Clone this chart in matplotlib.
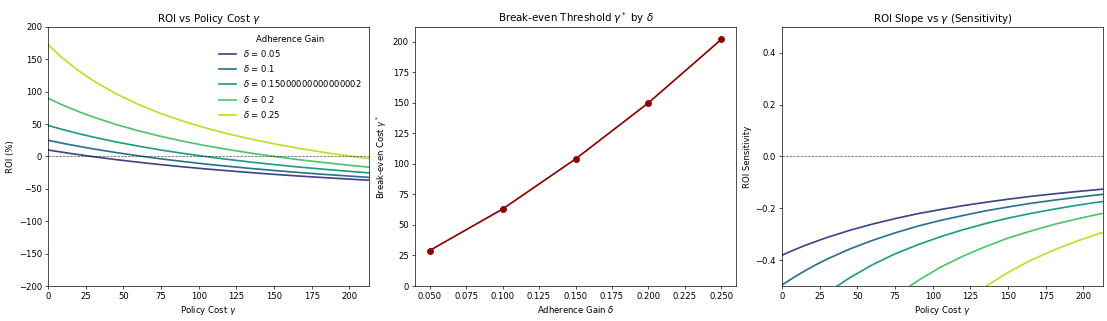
import numpy as np
import matplotlib
matplotlib.use("Agg")
import matplotlib.pyplot as plt

# adherence gains and the policy-cost grid
deltas = [0.05, 0.1, 0.15000000000000002, 0.2, 0.25]
gamma = [0, 7.5, 15, 22.5, 30, 45, 60, 75, 90, 105, 120, 135, 150, 165, 180, 195, 210, 213]

# ROI (%) per delta
roi_005 = [10.0, 7.3, 4.6, 2.1, -0.3, -4.8, -8.9, -12.6, -16.1, -19.3, -22.2, -25.0, -27.6, -30.0, -32.2, -34.3, -36.3, -36.6]
roi_010 = [25.0, 21.4, 18.0, 14.8, 11.7, 6.1, 1.0, -3.7, -7.9, -11.8, -15.3, -18.6, -21.6, -24.5, -27.1, -29.5, -31.8, -32.3]
roi_015 = [47.9, 43.0, 38.4, 34.0, 30.0, 22.5, 15.9, 9.9, 4.6, -0.3, -4.7, -8.8, -12.5, -16.0, -19.1, -22.1, -24.8, -25.3]
roi_020 = [89.8, 81.7, 74.2, 67.3, 60.9, 49.5, 39.6, 31.0, 23.3, 16.5, 10.5, 5.0, 0.0, -4.5, -8.6, -12.4, -15.9, -16.6]
roi_025 = [172.6, 156.2, 141.7, 128.7, 117.0, 96.9, 80.2, 66.1, 54.1, 43.7, 34.6, 26.6, 19.5, 13.1, 7.4, 2.2, -2.4, -3.3]

# ROI slope per delta
slope_005 = [-0.381, -0.362, -0.344, -0.328, -0.3125, -0.285, -0.261, -0.240, -0.221, -0.205, -0.190, -0.177, -0.165, -0.154, -0.1446, -0.1357, -0.1277, -0.1262]
slope_010 = [-0.496, -0.468, -0.442, -0.418, -0.396, -0.357, -0.324, -0.295, -0.269, -0.247, -0.228, -0.210, -0.195, -0.181, -0.169, -0.158, -0.148, -0.146]
slope_015 = [-0.682, -0.637, -0.596, -0.560, -0.526, -0.468, -0.418, -0.376, -0.341, -0.310, -0.283, -0.259, -0.238, -0.220, -0.204, -0.189, -0.176, -0.174]
slope_020 = [-1.137, -1.041, -0.957, -0.883, -0.817, -0.705, -0.615, -0.541, -0.480, -0.428, -0.385, -0.348, -0.315, -0.288, -0.263, -0.242, -0.223, -0.2195]
slope_025 = [-2.330, -2.058, -1.831, -1.639, -1.476, -1.215, -1.018, -0.865, -0.745, -0.647, -0.568, -0.502, -0.4475, -0.401, -0.362, -0.328, -0.298, -0.293]

# break-even cost per delta
breakeven = [29, 63, 104, 150, 202]

roi_all = [roi_005, roi_010, roi_015, roi_020, roi_025]
slope_all = [slope_005, slope_010, slope_015, slope_020, slope_025]

colors = plt.cm.viridis(np.linspace(0.2, 0.9, len(deltas)))

fig, axes = plt.subplots(1, 3, figsize=(18, 5.22), dpi=61.5)
fig.subplots_adjust(left=0.0434, right=0.9964, bottom=0.109, top=0.916, wspace=0.143)

# ROI vs gamma
ax = axes[0]
for d, r, c in zip(deltas, roi_all, colors):
    ax.plot(gamma, r, color=c, lw=2, label=f"$\\delta$ = {d}")
ax.axhline(0, color="black", ls="--", lw=0.8, alpha=0.7)
ax.set_xlim(0, 213)
ax.set_ylim(-200, 200)
ax.set_title("ROI vs Policy Cost $\\gamma$")
ax.set_xlabel("Policy Cost $\\gamma$")
ax.set_ylabel("ROI (%)")
ax.legend(title="Adherence Gain", frameon=False, loc="upper right")

# break-even threshold
ax = axes[1]
ax.plot(deltas, breakeven, marker="o", markersize=7, color="darkred", lw=2)
ax.set_ylim(0, 1.05 * max(breakeven))
ax.set_title("Break-even Threshold $\\gamma^*$ by $\\delta$")
ax.set_xlabel("Adherence Gain $\\delta$")
ax.set_ylabel("Break-even Cost $\\gamma^*$")

# slope
ax = axes[2]
for d, s, c in zip(deltas, slope_all, colors):
    ax.plot(gamma, s, color=c, lw=2)
ax.axhline(0, color="black", ls="--", lw=0.8, alpha=0.7)
ax.set_xlim(0, 213)
ax.set_ylim(-0.5, 0.5)
ax.set_title("ROI Slope vs $\\gamma$ (Sensitivity)")
ax.set_xlabel("Policy Cost $\\gamma$")
ax.set_ylabel("ROI Sensitivity")

fig.savefig("out.png", dpi=61.5)
